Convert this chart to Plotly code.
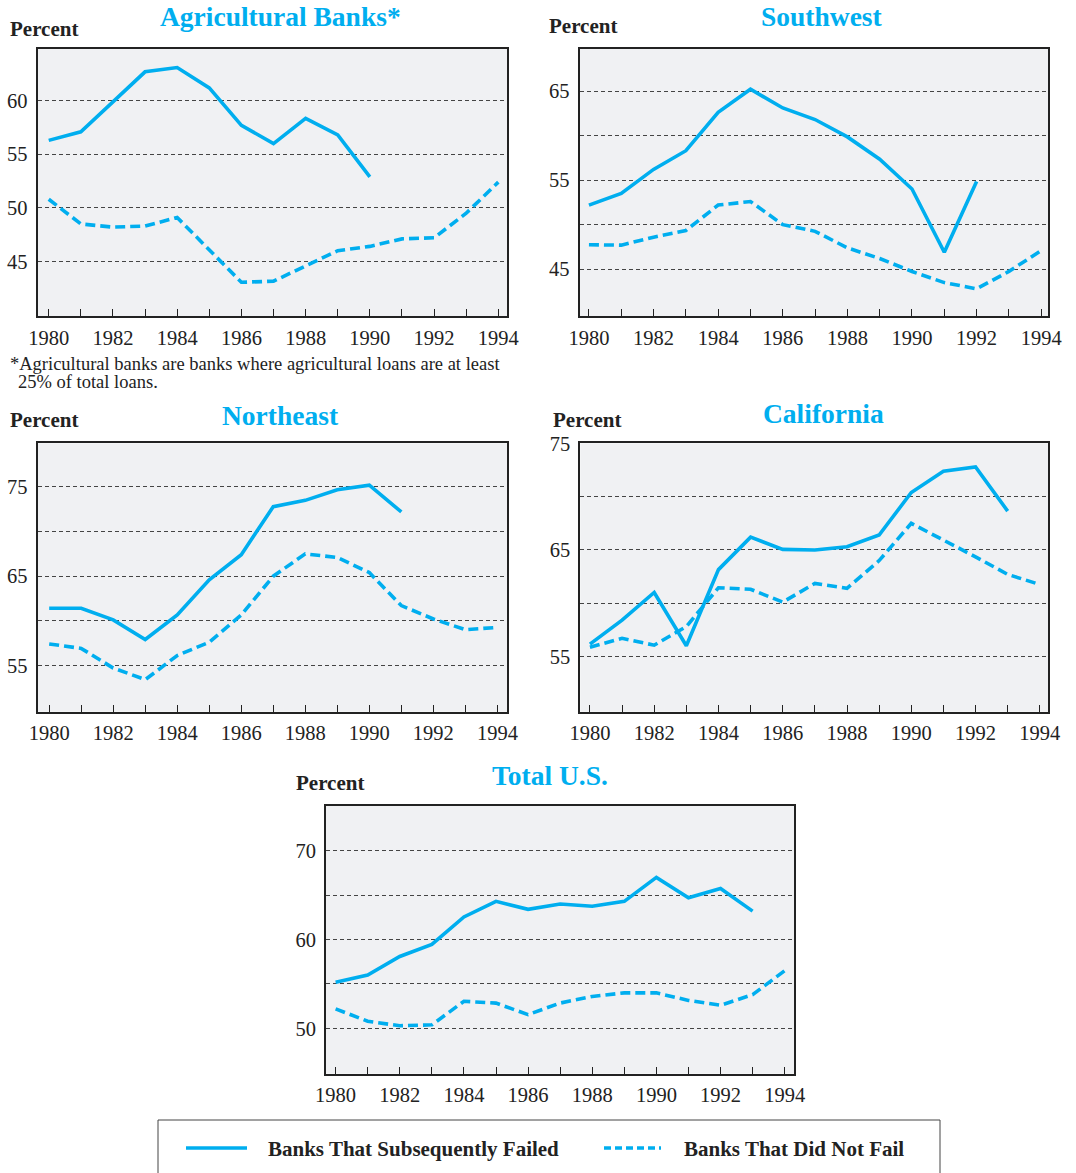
import plotly.graph_objects as go

W, H = 1076, 1173

years = list(range(1980, 1995))
year_ticks = years
year_text = [str(y) if y % 2 == 0 else "" for y in years]

agri_failed = [56.3, 57.1, 59.9, 62.7, 63.1, 61.2, 57.7, 56.0, 58.35, 56.8, 52.9]
agri_notfail = [50.8, 48.5, 48.2, 48.3, 49.1, 46.05, 43.05, 43.15, 44.6, 46.0, 46.4, 47.1, 47.2, 49.5, 52.4]

sw_failed = [52.2, 53.5, 56.2, 58.3, 62.6, 65.2, 63.1, 61.8, 59.85, 57.35, 54.0, 46.9, 54.85]
sw_notfail = [47.75, 47.7, 48.6, 49.35, 52.2, 52.6, 50.0, 49.25, 47.4, 46.2, 44.75, 43.5, 42.8, 44.75, 47.1]

ne_failed = [61.4, 61.4, 60.1, 57.9, 60.65, 64.6, 67.4, 72.8, 73.5, 74.7, 75.2, 72.2]
ne_notfail = [57.4, 56.9, 54.7, 53.4, 56.1, 57.6, 60.65, 65.0, 67.5, 67.1, 65.4, 61.7, 60.2, 59.0, 59.25]

ca_failed = [56.15, 58.4, 61.0, 56.0, 63.15, 66.2, 65.05, 65.0, 65.3, 66.4, 70.4, 72.4, 72.8, 68.65]
ca_notfail = [55.85, 56.7, 56.05, 57.8, 61.45, 61.3, 60.1, 61.85, 61.4, 64.0, 67.5, 65.95, 64.35, 62.7, 61.75]

us_failed = [55.2, 56.0, 58.1, 59.45, 62.55, 64.3, 63.4, 64.0, 63.75, 64.3, 67.0, 64.7, 65.75, 63.2]
us_notfail = [52.2, 50.8, 50.3, 50.4, 53.05, 52.85, 51.55, 52.85, 53.6, 54.0, 54.0, 53.15, 52.6, 53.8, 56.5]

titles = ["Agricultural Banks*", "Southwest", "Northeast", "California", "Total U.S."]
series_failed = [agri_failed, sw_failed, ne_failed, ca_failed, us_failed]
series_notfail = [agri_notfail, sw_notfail, ne_notfail, ca_notfail, us_notfail]

y_ranges = [[39.9, 64.86], [39.75, 69.75], [49.8, 79.9], [49.8, 75.02], [44.9, 75.07]]
y_tickvals = [[45, 50, 55, 60], [45, 50, 55, 60, 65], [55, 60, 65, 70, 75], [55, 60, 65, 70, 75], [50, 55, 60, 65, 70]]
y_ticktext = [["45", "50", "55", "60"], ["45", "", "55", "", "65"], ["55", "", "65", "", "75"],
              ["55", "", "65", "", "75"], ["50", "", "60", "", "70"]]

legend_names = ["Banks That Subsequently Failed", "Banks That Did Not Fail"]
footnote = ["*Agricultural banks are banks where agricultural loans are at least", "25% of total loans."]

# layout in page pixels (left, right, top, bottom)
boxes = [(37.7, 507.3, 48.7, 316), (579.7, 1048, 48.7, 316),
         (37.5, 507.3, 443.3, 711.7), (580.3, 1048, 443.3, 711.7),
         (326, 794.3, 805.7, 1073.7)]
x_ranges = [[1979.657, 1994.28], [1979.714, 1994.21], [1979.635, 1994.31], [1979.70, 1994.255], [1979.70, 1994.30]]
title_pos = [(280, 17), (822, 17), (280, 415), (823, 413), (550, 775)]
percent_pos = [(8, 28.5), (547, 26.5), (8, 420.5), (551, 420.5), (294, 782.5)]

CYAN = "#00AEEF"
SERIF = "Liberation Serif, Times New Roman, serif"


def px(x):
    return x / W


def py(y):
    return 1 - y / H


fig = go.Figure()
layout = dict(
    width=W, height=H, autosize=False,
    margin=dict(l=0, r=0, t=0, b=0),
    paper_bgcolor="white", plot_bgcolor="#F0F1F3",
    showlegend=False,
    font=dict(family=SERIF, size=18, color="#222"),
)
annotations = []
shapes = []

for i in range(5):
    n = "" if i == 0 else str(i + 1)
    l, r, t, b = boxes[i]
    xa = "x" + n
    ya = "y" + n
    fig.add_trace(go.Scatter(x=years[:len(series_failed[i])], y=series_failed[i], mode="lines",
                             line=dict(color=CYAN, width=3.6), xaxis=xa, yaxis=ya,
                             name=legend_names[0]))
    fig.add_trace(go.Scatter(x=years[:len(series_notfail[i])], y=series_notfail[i], mode="lines",
                             line=dict(color=CYAN, width=3.6, dash="10px,5px"), xaxis=xa, yaxis=ya,
                             name=legend_names[1]))
    layout["xaxis" + n] = dict(
        domain=[px(l), px(r)], range=x_ranges[i], anchor=ya, automargin=False,
        tickvals=year_ticks, ticktext=year_text, ticks="inside", ticklen=7, tickwidth=1,
        tickcolor="#222", showgrid=False, zeroline=False,
        showline=True, linecolor="#222", linewidth=2, mirror=True,
        tickfont=dict(family=SERIF, size=20.5, color="#222"), ticklabelstandoff=2,
    )
    layout["yaxis" + n] = dict(
        domain=[py(b), py(t)], range=y_ranges[i], anchor=xa, automargin=False,
        tickvals=y_tickvals[i], ticktext=y_ticktext[i], ticks="",
        showgrid=True, gridcolor="#444", gridwidth=1, griddash="4px,3px",
        zeroline=False, showline=True, linecolor="#222", linewidth=2, mirror=True,
        tickfont=dict(family=SERIF, size=20.5, color="#222"), ticklabelstandoff=4,
    )
    tx, ty = title_pos[i]
    annotations.append(dict(text="<b>%s</b>" % titles[i], x=px(tx), y=py(ty), xref="paper", yref="paper",
                            xanchor="center", yanchor="middle", showarrow=False,
                            font=dict(family=SERIF, size=27.5, color=CYAN)))
    ppx, ppy = percent_pos[i]
    annotations.append(dict(text="<b>Percent</b>", x=px(ppx), y=py(ppy), xref="paper", yref="paper",
                            xanchor="left", yanchor="middle", showarrow=False,
                            font=dict(family=SERIF, size=21, color="#222")))

annotations.append(dict(text=footnote[0], x=px(8), y=py(364), xref="paper", yref="paper",
                        xanchor="left", yanchor="middle", showarrow=False,
                        font=dict(family=SERIF, size=18.5, color="#222")))
annotations.append(dict(text=footnote[1], x=px(16), y=py(382), xref="paper", yref="paper",
                        xanchor="left", yanchor="middle", showarrow=False,
                        font=dict(family=SERIF, size=18.5, color="#222")))

# legend box
shapes.append(dict(type="rect", xref="paper", yref="paper", x0=px(158), x1=px(940), y0=py(1185), y1=py(1120),
                   line=dict(color="#444", width=1), fillcolor="rgba(0,0,0,0)"))
shapes.append(dict(type="line", xref="paper", yref="paper", x0=px(186), x1=px(247), y0=py(1148), y1=py(1148),
                   line=dict(color=CYAN, width=3.6)))
shapes.append(dict(type="line", xref="paper", yref="paper", x0=px(604), x1=px(661), y0=py(1148), y1=py(1148),
                   line=dict(color=CYAN, width=3.6, dash="7px,4px")))
annotations.append(dict(text="<b>%s</b>" % legend_names[0], x=px(266), y=py(1149), xref="paper", yref="paper",
                        xanchor="left", yanchor="middle", showarrow=False,
                        font=dict(family=SERIF, size=21, color="#222")))
annotations.append(dict(text="<b>%s</b>" % legend_names[1], x=px(682), y=py(1149), xref="paper", yref="paper",
                        xanchor="left", yanchor="middle", showarrow=False,
                        font=dict(family=SERIF, size=21, color="#222")))

layout["annotations"] = annotations
layout["shapes"] = shapes
fig.update_layout(**layout)

fig.write_html("out.html", config={"displayModeBar": False},
               post_script="document.body.style.margin='0';document.body.style.overflow='hidden';")
